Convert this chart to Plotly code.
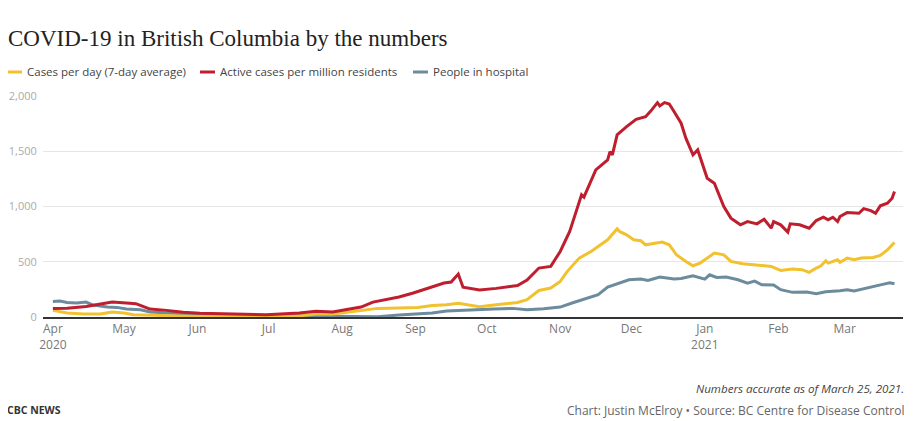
import plotly.graph_objects as go

# Cases per day (7-day average)
CASES_DATES = [
    '2020-04-01', '2020-04-07', '2020-04-14', '2020-04-21', '2020-04-26', '2020-05-01',
    '2020-05-05', '2020-05-19', '2020-06-02', '2020-06-23', '2020-07-14', '2020-07-21',
    '2020-07-28', '2020-08-04', '2020-08-11', '2020-08-16', '2020-08-25', '2020-09-02',
    '2020-09-08', '2020-09-14', '2020-09-19', '2020-09-28', '2020-10-05', '2020-10-14',
    '2020-10-18', '2020-10-23', '2020-10-28', '2020-11-01', '2020-11-04', '2020-11-09',
    '2020-11-14', '2020-11-18', '2020-11-21', '2020-11-25', '2020-11-26', '2020-11-29',
    '2020-12-02', '2020-12-05', '2020-12-07', '2020-12-11', '2020-12-14', '2020-12-17',
    '2020-12-20', '2020-12-24', '2020-12-27', '2020-12-30', '2021-01-02', '2021-01-05',
    '2021-01-09', '2021-01-12', '2021-01-17', '2021-01-23', '2021-01-29', '2021-02-02',
    '2021-02-07', '2021-02-11', '2021-02-14', '2021-02-17', '2021-02-19', '2021-02-21',
    '2021-02-22', '2021-02-26', '2021-02-27', '2021-03-02', '2021-03-05', '2021-03-08',
    '2021-03-13', '2021-03-16', '2021-03-19', '2021-03-22',
]
CASES = [
    60, 36, 27, 27, 45, 36,
    21, 12, 5, 5, 10, 27,
    27, 45, 66, 78, 81, 87,
    105, 111, 125, 93, 111, 132,
    156, 240, 262, 322, 413, 533,
    593, 653, 699, 798, 774, 744,
    699, 690, 653, 668, 678, 653,
    563, 503, 464, 488, 533, 578,
    563, 503, 482, 473, 458, 422,
    434, 428, 404, 443, 464, 509,
    488, 518, 494, 533, 518, 533,
    539, 557, 608, 674,
]

# Active cases per million residents
ACTIVE_DATES = [
    '2020-04-01', '2020-04-07', '2020-04-15', '2020-04-19', '2020-04-26', '2020-05-02',
    '2020-05-06', '2020-05-09', '2020-05-12', '2020-05-19', '2020-05-26', '2020-06-02',
    '2020-06-16', '2020-06-30', '2020-07-14', '2020-07-21', '2020-07-28', '2020-08-01',
    '2020-08-09', '2020-08-14', '2020-08-20', '2020-08-25', '2020-08-31', '2020-09-06',
    '2020-09-08', '2020-09-13', '2020-09-16', '2020-09-19', '2020-09-21', '2020-09-28',
    '2020-10-05', '2020-10-14', '2020-10-18', '2020-10-23', '2020-10-28', '2020-11-01',
    '2020-11-05', '2020-11-08', '2020-11-10', '2020-11-11', '2020-11-16', '2020-11-21',
    '2020-11-22', '2020-11-23', '2020-11-25', '2020-11-29', '2020-12-01', '2020-12-03',
    '2020-12-07', '2020-12-09', '2020-12-12', '2020-12-13', '2020-12-15', '2020-12-17',
    '2020-12-19', '2020-12-22', '2020-12-24', '2020-12-27', '2020-12-29', '2020-12-30',
    '2021-01-02', '2021-01-05', '2021-01-09', '2021-01-12', '2021-01-16', '2021-01-19',
    '2021-01-23', '2021-01-26', '2021-01-29', '2021-01-30', '2021-02-02', '2021-02-05',
    '2021-02-06', '2021-02-10', '2021-02-14', '2021-02-17', '2021-02-20', '2021-02-22',
    '2021-02-24', '2021-02-26', '2021-02-27', '2021-03-02', '2021-03-07', '2021-03-09',
    '2021-03-12', '2021-03-14', '2021-03-16', '2021-03-19', '2021-03-21', '2021-03-22',
]
ACTIVE = [
    78, 80, 96, 108, 135, 127,
    121, 96, 72, 60, 42, 33,
    27, 21, 36, 51, 45, 60,
    90, 135, 157, 181, 217, 259,
    271, 307, 316, 389, 270, 245,
    259, 285, 335, 443, 458, 593,
    774, 970, 1106, 1085, 1332, 1422,
    1497, 1467, 1648, 1723, 1759, 1789,
    1813, 1859, 1940, 1910, 1940, 1928,
    1859, 1754, 1618, 1467, 1512, 1452,
    1256, 1211, 1000, 895, 834, 864,
    843, 885, 804, 864, 834, 768,
    843, 834, 804, 873, 903, 879,
    903, 864, 909, 945, 939, 981,
    963, 939, 1006, 1030, 1075, 1136,
]

# People in hospital
HOSP_DATES = [
    '2020-04-01', '2020-04-04', '2020-04-07', '2020-04-11', '2020-04-15', '2020-04-18',
    '2020-04-24', '2020-04-28', '2020-05-02', '2020-05-08', '2020-05-12', '2020-05-19',
    '2020-05-26', '2020-06-02', '2020-06-16', '2020-06-30', '2020-07-14', '2020-07-28',
    '2020-08-04', '2020-08-16', '2020-08-25', '2020-09-02', '2020-09-08', '2020-09-14',
    '2020-09-19', '2020-09-28', '2020-10-04', '2020-10-12', '2020-10-18', '2020-10-25',
    '2020-11-01', '2020-11-06', '2020-11-12', '2020-11-17', '2020-11-21', '2020-11-25',
    '2020-11-30', '2020-12-05', '2020-12-08', '2020-12-13', '2020-12-19', '2020-12-22',
    '2020-12-27', '2021-01-01', '2021-01-03', '2021-01-06', '2021-01-10', '2021-01-15',
    '2021-01-19', '2021-01-22', '2021-01-25', '2021-01-30', '2021-02-02', '2021-02-07',
    '2021-02-13', '2021-02-17', '2021-02-21', '2021-02-27', '2021-03-02', '2021-03-05',
    '2021-03-09', '2021-03-13', '2021-03-17', '2021-03-20', '2021-03-22',
]
HOSP = [
    141, 144, 132, 127, 135, 108,
    90, 87, 72, 66, 45, 36,
    27, 21, 9, 12, 12, 6,
    6, 2, 18, 30, 36, 54,
    57, 66, 72, 78, 66, 75,
    90, 127, 165, 202, 271, 301,
    337, 343, 331, 361, 343, 349,
    373, 343, 382, 358, 361, 337,
    307, 325, 292, 289, 247, 223,
    226, 211, 229, 238, 247, 235,
    253, 277, 295, 310, 301,
]

MONTH_TICKS = ['2020-04-01', '2020-05-01', '2020-06-01', '2020-07-01', '2020-08-01',
               '2020-09-01', '2020-10-01', '2020-11-01', '2020-12-01', '2021-01-01',
               '2021-02-01', '2021-03-01']
MONTH_LABELS = ['Apr<br>2020', 'May', 'Jun', 'Jul', 'Aug', 'Sep', 'Oct', 'Nov', 'Dec',
                'Jan<br>2021', 'Feb', 'Mar']

YELLOW = '#F2C12E'
RED = '#BE1E2D'
SLATE = '#6C8B9C'
GRID = '#E6E6E6'
SANS = 'Open Sans, Noto Sans, sans-serif'

# the page body adds an 8px margin, so the figure is 8px smaller than the window
OFF = 8
W, H = 919 - OFF, 421 - OFF
ML, MR, MT, MB = 43 - OFF, 16, 96 - OFF, 104
PW, PH = W - ML - MR, H - MT - MB


def px(x):
    # screen x (as in the original) -> paper fraction
    return (x - OFF - ML) / PW


def py(y):
    # screen y (as in the original) -> paper fraction
    return (H - MB - (y - OFF)) / PH


SERIES = [
    ('People in hospital', HOSP_DATES, HOSP, SLATE),
    ('Cases per day (7-day average)', CASES_DATES, CASES, YELLOW),
    ('Active cases per million residents', ACTIVE_DATES, ACTIVE, RED),
]

fig = go.Figure()
for name, xs, ys, col in SERIES:
    fig.add_trace(go.Scatter(
        x=xs, y=ys, mode='lines', name=name,
        line=dict(color=col, width=3),
        hovertemplate='%{x|%b %d, %Y}<br>%{y:,.0f}<extra>' + name + '</extra>',
    ))

# hand-made legend: short swatch + label, positioned like the original
legend_items = [
    ('Cases per day (7-day average)', YELLOW, 7),
    ('Active cases per million residents', RED, 200),
    ('People in hospital', SLATE, 413),
]
shapes, annos = [], []
for label, col, x0 in legend_items:
    shapes.append(dict(type='line', xref='paper', yref='paper',
                       x0=px(x0), x1=px(x0 + 15), y0=py(72), y1=py(72),
                       line=dict(color=col, width=3)))
    annos.append(dict(text=label, xref='paper', yref='paper',
                      x=px(x0 + 18), y=py(72), xanchor='left', yanchor='middle',
                      showarrow=False, font=dict(family=SANS, size=11.5, color='#444')))

annos += [
    dict(text='<i>Numbers accurate as of March 25, 2021.</i>', xref='paper', yref='paper',
         x=px(906), y=py(388), xanchor='right', yanchor='middle', showarrow=False,
         font=dict(family=SANS, size=11.6, color='#444')),
    dict(text='<b>CBC NEWS</b>', xref='paper', yref='paper',
         x=px(5), y=py(410), xanchor='left', yanchor='middle', showarrow=False,
         font=dict(family=SANS, size=10.5, color='#333')),
    dict(text='Chart: Justin McElroy • Source: BC Centre for Disease Control',
         xref='paper', yref='paper', x=px(906), y=py(410),
         xanchor='right', yanchor='middle', showarrow=False,
         font=dict(family=SANS, size=12, color='#666')),
]

fig.update_xaxes(
    type='date', range=['2020-03-27 20:00', '2021-03-25 14:00'],
    tickvals=MONTH_TICKS, ticktext=MONTH_LABELS,
    showgrid=False, zeroline=False, automargin=False,
    showline=True, linecolor='#333', linewidth=1.5,
    ticks='', tickfont=dict(family=SANS, size=12, color='#777'),
    fixedrange=True,
)
fig.update_yaxes(
    range=[0, 2000], dtick=500, tickformat=',',
    showgrid=True, gridcolor=GRID, gridwidth=1, zeroline=False, automargin=False,
    showline=False, ticks='outside', ticklen=3, tickcolor='rgba(0,0,0,0)',
    tickfont=dict(family=SANS, size=11, color='#AAA'),
    fixedrange=True,
)

fig.update_layout(
    width=W, height=H,
    margin=dict(l=ML, r=MR, t=MT, b=MB),
    title=dict(text='COVID-19 in British Columbia by the numbers',
               x=0, xref='container', xanchor='left',
               y=1 - (38 - OFF) / H, yref='container', yanchor='middle',
               font=dict(family='Liberation Serif, DejaVu Serif, serif', size=23, color='#222')),
    showlegend=False,
    shapes=shapes, annotations=annos,
    paper_bgcolor='white', plot_bgcolor='white',
    font=dict(family=SANS),
)

fig.write_html('out.html')
